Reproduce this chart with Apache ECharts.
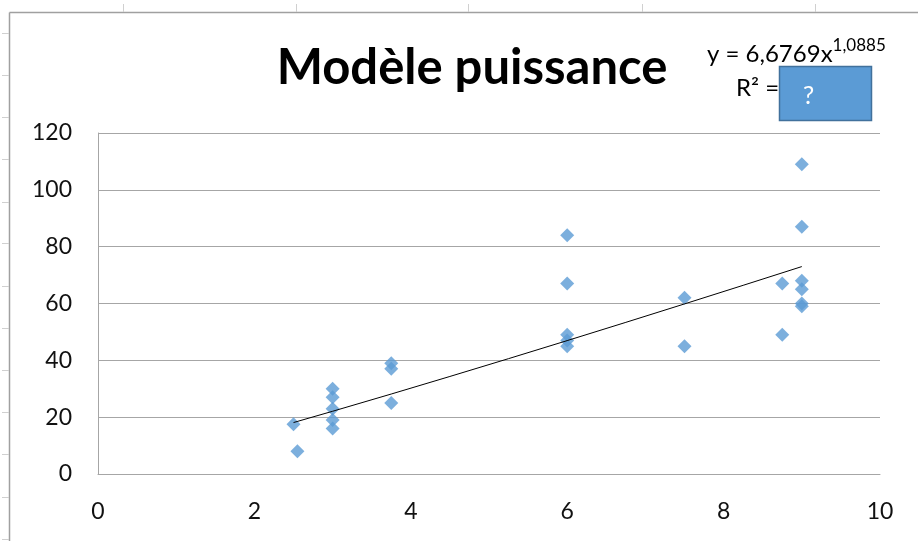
<!DOCTYPE html>
<html><head><meta charset="utf-8">
<script src="https://cdn.jsdelivr.net/npm/echarts@6/dist/echarts.min.js"></script>
<style>html,body{margin:0;padding:0;background:#fff}#c{width:918px;height:541px}</style>
</head><body><div id="c"></div>
<script>
const titleText = 'Modèle puissance';
const xValues = [2.5, 2.55, 3, 3, 3, 3, 3, 3.75, 3.75, 3.75, 6, 6, 6, 6, 6, 7.5, 7.5, 8.75, 8.75, 9, 9, 9, 9, 9, 9];
const yValues = [17.5, 8, 30, 27, 23, 19, 16, 39, 37, 25, 84, 67, 49, 47, 45, 62, 45, 67, 49, 109, 87, 68, 65, 60, 59];
const trendCoef = 6.6769;
const trendExp = 1.0885;
const trendXs = [2.5, 3, 3.75, 4.5, 5.25, 6, 6.75, 7.5, 8.25, 9];
const xTicks = [0, 2, 4, 6, 8, 10];
const yTicks = [0, 20, 40, 60, 80, 100, 120];

const points = xValues.map((x, i) => [x, yValues[i]]);
const trend = trendXs.map(x => [x, trendCoef * Math.pow(x, trendExp)]);

const chart = echarts.init(document.getElementById('c'), null, {renderer: 'canvas'});
const F = 'Lato, "Noto Sans", sans-serif';
const grey = '#A6A6A6';

const frame = [];
frame.push({type:'line', shape:{x1:9.5,y1:12.5,x2:918,y2:12.5}, style:{stroke:'#A0A0A0', lineWidth:1.5}, silent:true});
frame.push({type:'line', shape:{x1:9.5,y1:12.5,x2:9.5,y2:541}, style:{stroke:'#A0A0A0', lineWidth:1.5}, silent:true});
[123, 296, 468, 642, 815].forEach(x => frame.push({type:'line', shape:{x1:x+0.5,y1:4,x2:x+0.5,y2:12}, style:{stroke:'#D0D0D0', lineWidth:1}, silent:true}));
[33, 75, 117, 159, 202, 243, 286, 328, 370, 412, 454, 497, 539].forEach(y => frame.push({type:'line', shape:{x1:2,y1:y+0.5,x2:9,y2:y+0.5}, style:{stroke:'#D0D0D0', lineWidth:1}, silent:true}));

chart.setOption({
  animation: false,
  backgroundColor: '#fff',
  title: {
    text: titleText, left: 467, top: 39, textAlign: 'center',
    textStyle: {fontFamily: F, fontWeight: 'bold', fontSize: 49, color: '#000'}
  },
  grid: {left: 98, right: 38, top: 133, bottom: 67, containLabel: false},
  xAxis: {
    type: 'value', min: xTicks[0], max: xTicks[xTicks.length-1], interval: 2,
    axisLine: {show: true, onZero: false, lineStyle: {color: grey, width: 1}},
    axisTick: {show: false},
    splitLine: {show: false},
    axisLabel: {fontFamily: F, fontSize: 23, color: '#111', margin: 26}
  },
  yAxis: {
    type: 'value', min: yTicks[0], max: yTicks[yTicks.length-1], interval: 20,
    axisLine: {show: true, lineStyle: {color: grey, width: 1}},
    axisTick: {show: false},
    splitLine: {show: true, lineStyle: {color: grey, width: 1}},
    axisLabel: {fontFamily: F, fontSize: 23, color: '#111', margin: 26}
  },
  series: [
    {type: 'scatter', data: points, symbol: 'diamond', symbolSize: 14,
     itemStyle: {color: '#5B9BD5'}, z: 3},
    {type: 'line', data: trend, showSymbol: false, smooth: false,
     lineStyle: {color: '#000', width: 1}, z: 4}
  ],
  graphic: frame.concat([
    {type:'text', left: 707, top: 37, style:{
      text: '{b|y = 6,6769x}{s|1,0885}', font: '24px ' + F,
      rich: {b:{fontFamily:F, fontSize:24, color:'#000', verticalAlign:'bottom'}, s:{fontFamily:F, fontSize:17, color:'#000', verticalAlign:'top', padding:[0,0,12,0]}}
    }},
    {type:'text', left: 736, top: 76, style:{text:'R² =', fill:'#000', font: '24px ' + F}},
    {type:'rect', shape:{x:779.5, y:66.5, width:92, height:54}, style:{fill:'#5B9BD5', stroke:'#41719C', lineWidth:1.5}},
    {type:'text', left: 803, top: 83, style:{text:'?', fill:'#fff', font: '25px ' + F}}
  ])
});
</script></body></html>
